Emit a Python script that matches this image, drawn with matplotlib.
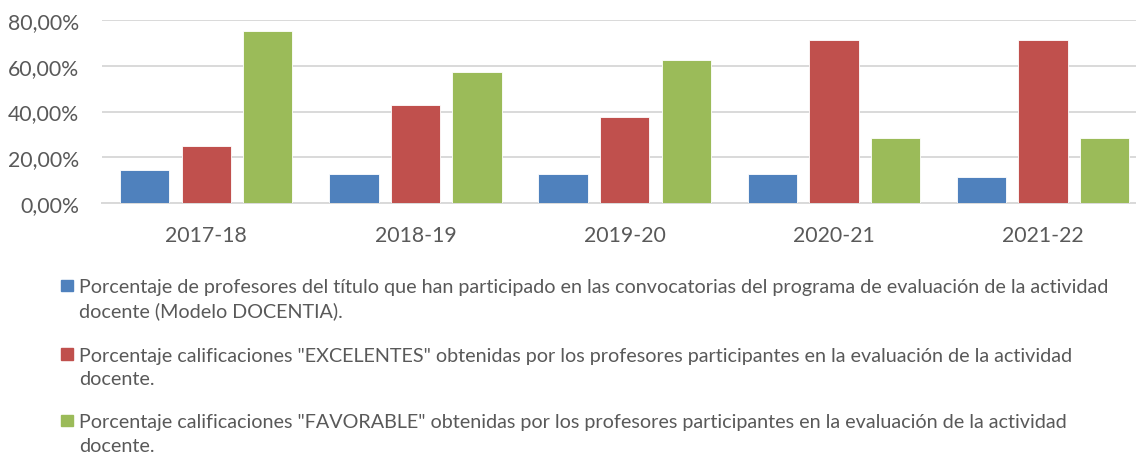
import matplotlib
matplotlib.use("Agg")
import matplotlib.pyplot as plt
import numpy as np
from matplotlib.patches import Rectangle
from matplotlib.ticker import FuncFormatter

categories = ["2017-18", "2018-19", "2019-20", "2020-21", "2021-22"]
participacion = [14.29, 12.5, 12.5, 12.5, 11.4]
excelentes = [25.0, 42.86, 37.5, 71.43, 71.43]
favorable = [75.0, 57.14, 62.5, 28.57, 28.57]
series_labels = [
    "Porcentaje de profesores del título que han participado en las convocatorias del programa de evaluación de la actividad\ndocente (Modelo DOCENTIA).",
    "Porcentaje calificaciones \"EXCELENTES\" obtenidas por los profesores participantes en la evaluación de la actividad\ndocente.",
    "Porcentaje calificaciones \"FAVORABLE\" obtenidas por los profesores participantes en la evaluación de la actividad\ndocente.",
]
colors = ["#4F81BD", "#C0504D", "#9BBB59"]
yticks = [0, 20, 40, 60, 80]

FONT = ["Lato", "DejaVu Sans"]
TXT = "#595959"
plt.rcParams["font.family"] = FONT

W, H = 1136, 456
fig = plt.figure(figsize=(W / 100, H / 100), dpi=100)

# fit font size so first legend line spans ~1033 px
renderer = fig.canvas.get_renderer()
probe = fig.text(0, 0, series_labels[0].split("\n")[0], fontsize=14)
w = probe.get_window_extent(renderer).width
probe.remove()
fs = 14 * 1033 / w
fs_tick = fs * 1.08

left_px, right_px = 101.6, 1147.7
bot_px, top_px = 204.0, 21.0
ax = fig.add_axes([left_px / W, (H - bot_px) / H, (right_px - left_px) / W, (bot_px - top_px) / H])

x = np.arange(len(categories))
off = 0.294
bw = 0.2356
for i, (vals, c) in enumerate(zip([participacion, excelentes, favorable], colors)):
    ax.bar(x + (i - 1) * off, vals, width=bw, color=c, zorder=3, edgecolor="white", linewidth=0.6)

ax.set_xlim(-0.5, len(categories) - 0.5)
ax.set_ylim(0, 80)
ax.set_yticks(yticks)
ax.yaxis.set_major_formatter(FuncFormatter(lambda v, p: f"{v:.2f}%".replace(".", ",")))
ax.grid(axis="y", color="#d9d9d9", linewidth=1.4, zorder=0)
for s in ["top", "right", "left"]:
    ax.spines[s].set_visible(False)
ax.spines["bottom"].set_color("#d9d9d9")
ax.spines["bottom"].set_linewidth(1.4)
ax.set_xticks(x)
ax.set_xticklabels(categories)
ax.tick_params(axis="both", length=0, labelsize=fs_tick, labelcolor=TXT)
ax.tick_params(axis="y", pad=16.3)
ax.tick_params(axis="x", pad=15.5)
ax.set_axisbelow(True)

# legend
baselines = [293.3, 361.7, 428.3]
for lab, c, b in zip(series_labels, colors, baselines):
    fig.patches.append(Rectangle((61 / W, (H - b + 1) / H), 11.5 / W, 11.5 / H,
                                 transform=fig.transFigure, color=c))
    lines = lab.split("\n")
    for k, ln in enumerate(lines):
        fig.text(79.3 / W, (H - b - k * 23.8) / H, ln, fontsize=fs, color=TXT,
                 va="baseline", ha="left")

fig.savefig("out.png", dpi=100)
